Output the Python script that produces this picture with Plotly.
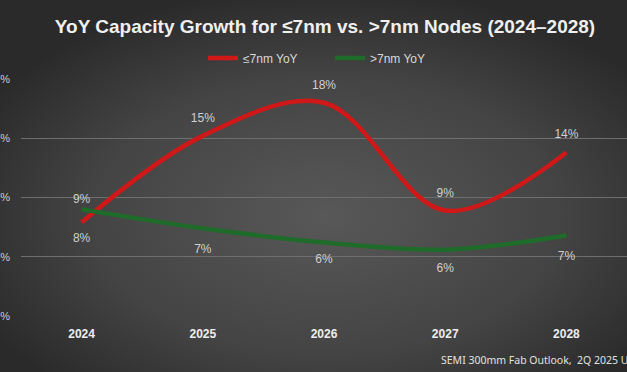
import base64
import plotly.graph_objects as go

years = ["2024", "2025", "2026", "2027", "2028"]
le7_yoy = [7.9, 15.2, 18.0, 8.9, 13.8]
gt7_yoy = [9.0, 7.4, 6.2, 5.6, 6.8]
y_ticks = [0, 5, 10, 15, 20]
y_tick_text = ["0%", "5%", "10%", "15%", "20%"]

le7_pos = ["bottom center", "top center", "top center", "top center", "top center"]
gt7_pos = ["top center", "bottom center", "bottom center", "bottom center", "bottom center"]
le7_label_gap = [16, 16, 16, 16, 16]
gt7_label_gap = [4, 24, 16, 20, 24]

W, H = 627, 372
ml, mr, mt, mb = 21, 0, 79, 56
pw, ph = W - ml - mr, H - mt - mb

svg = (
    f'<svg xmlns="http://www.w3.org/2000/svg" width="{W}" height="{H}">'
    '<defs><radialGradient id="g" cx="52%" cy="58%" r="62%">'
    '<stop offset="0%" stop-color="#585858"/>'
    '<stop offset="60%" stop-color="#444444"/>'
    '<stop offset="100%" stop-color="#2a2a2a"/>'
    '</radialGradient></defs>'
    f'<rect width="{W}" height="{H}" fill="url(#g)"/></svg>'
)
bg_src = "data:image/svg+xml;base64," + base64.b64encode(svg.encode()).decode()

hidden_marker = dict(color="rgba(0,0,0,0)", line=dict(width=0, color="rgba(0,0,0,0)"))

fig = go.Figure()
fig.add_trace(go.Scatter(
    x=years, y=le7_yoy, name="≤7nm YoY",
    mode="lines+markers+text",
    line=dict(color="#d01818", width=4.5, shape="spline", smoothing=1.0),
    marker=dict(size=le7_label_gap, **hidden_marker),
    text=[f"{v:.0f}%" for v in le7_yoy], textposition=le7_pos,
    textfont=dict(family="Liberation Sans", size=12, color="#d0d0d0"),
    cliponaxis=False,
))
fig.add_trace(go.Scatter(
    x=years, y=gt7_yoy, name=">7nm YoY",
    mode="lines+markers+text",
    line=dict(color="#1f6b2a", width=4.5, shape="spline", smoothing=1.0),
    marker=dict(size=gt7_label_gap, **hidden_marker),
    text=[f"{v:.0f}%" for v in gt7_yoy], textposition=gt7_pos,
    textfont=dict(family="Liberation Sans", size=12, color="#d0d0d0"),
    cliponaxis=False,
))

fig.update_layout(
    template="none",
    width=W, height=H,
    margin=dict(l=ml, r=mr, t=mt, b=mb, autoexpand=False),
    paper_bgcolor="#333333",
    plot_bgcolor="rgba(0,0,0,0)",
    images=[dict(
        source=bg_src, xref="paper", yref="paper",
        x=-ml / pw, y=(ph + mt) / ph, sizex=W / pw, sizey=H / ph,
        xanchor="left", yanchor="top", sizing="stretch", layer="below",
    )],
    title=dict(
        text="<b>YoY Capacity Growth for ≤7nm vs. >7nm Nodes (2024–2028)</b>",
        x=325 / W, xanchor="center", xref="container",
        y=1 - 26 / H, yanchor="middle", yref="container",
        font=dict(family="Liberation Sans", size=19, color="#f0f0f0"),
    ),
    legend=dict(
        orientation="h", x=(203 - ml) / pw, xanchor="left",
        y=(ph + mt - 58) / ph, yanchor="middle",
        bgcolor="rgba(0,0,0,0)",
        font=dict(family="Liberation Sans", size=12, color="#d9d9d9"),
        itemwidth=30, entrywidth=82, entrywidthmode="pixels",
    ),
    xaxis=dict(
        type="category", range=[-0.5, 4.5], automargin=False,
        showgrid=False, showline=False, zeroline=False, ticks="",
        tickfont=dict(family="Liberation Sans", size=12, color="#eeeeee", weight="bold"),
        ticklabelstandoff=9,
    ),
    yaxis=dict(
        range=[0, 20], tickvals=y_ticks, ticktext=y_tick_text, automargin=False,
        showgrid=True, gridcolor="#6e6e6e", gridwidth=1,
        zeroline=False, showline=False, ticks="",
        tickfont=dict(family="Liberation Sans", size=11, color="#cccccc"),
        ticklabelstandoff=10,
    ),
    annotations=[dict(
        text="SEMI 300mm Fab Outlook,  2Q 2025 Update",
        xref="paper", yref="paper",
        x=(439 - ml) / pw, xanchor="left",
        y=-(360 - mt - ph) / ph, yanchor="middle",
        showarrow=False,
        font=dict(family="Noto Sans", size=10.5, color="#e0e0e0"),
    )],
    showlegend=True,
)

fig.write_html(
    "out.html",
    config={"displayModeBar": False},
    post_script="document.body.style.margin='0';document.body.style.overflow='hidden';",
)
